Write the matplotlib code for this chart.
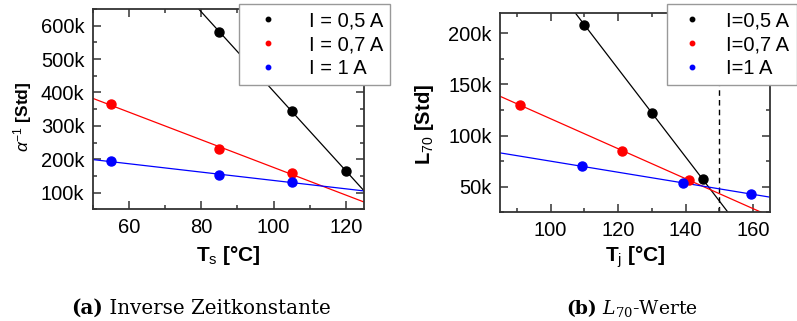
import numpy as np
import matplotlib
matplotlib.use("Agg")
import matplotlib.pyplot as plt
from matplotlib.lines import Line2D
from matplotlib.ticker import MultipleLocator, FuncFormatter

plt.rcParams["font.family"] = ["Liberation Sans", "DejaVu Sans"]
plt.rcParams["mathtext.fontset"] = "custom"
plt.rcParams["mathtext.rm"] = "Liberation Sans"
plt.rcParams["mathtext.it"] = "Liberation Sans:italic"
plt.rcParams["mathtext.bf"] = "Liberation Sans:bold"

# (a) inverse Zeitkonstante ueber Loetstellentemperatur
ts_05 = [85, 105, 120]
inv_05 = [582e3, 344e3, 165e3]
ts_07 = [55, 85, 105]
inv_07 = [364e3, 232e3, 158e3]
ts_10 = [55, 85, 105]
inv_10 = [194e3, 152e3, 132e3]

# (b) L70-Werte ueber Sperrschichttemperatur
tj_05 = [110, 130, 145]
l70_05 = [208e3, 122.5e3, 57.3e3]
tj_07 = [91, 121, 141]
l70_07 = [130e3, 84.6e3, 57e3]
tj_10 = [109.3, 139.3, 159.3]
l70_10 = [70e3, 53.5e3, 43e3]
tj_max = 150

colors = ["black", "red", "blue"]
labels_a = ["I = 0,5 A", "I = 0,7 A", "I = 1 A"]
labels_b = ["I=0,5 A", "I=0,7 A", "I=1 A"]

FS = 14.5
spine_col = "#333333"


def k_fmt(v, pos):
  return f"{int(round(v / 1000))}k"


def draw_panel(ax, series, xlim, ylim, xmaj, ymaj):
  for (xs, ys), c in zip(series, colors):
    m, b = np.polyfit(xs, ys, 1)
    xx = np.array(xlim, dtype=float)
    ax.plot(xx, m * xx + b, color=c, lw=0.9, zorder=2)
    ax.plot(xs, ys, "o", color=c, ms=6.5, mec=c, zorder=3)
  ax.set_xlim(*xlim)
  ax.set_ylim(*ylim)
  ax.xaxis.set_major_locator(MultipleLocator(xmaj))
  ax.xaxis.set_minor_locator(MultipleLocator(xmaj / 2))
  ax.yaxis.set_major_locator(MultipleLocator(ymaj))
  ax.yaxis.set_minor_locator(MultipleLocator(ymaj / 2))
  ax.yaxis.set_major_formatter(FuncFormatter(k_fmt))
  ax.tick_params(which="both", direction="in", top=True, right=True,
                 labelsize=FS, color=spine_col, width=1.1, pad=6)
  ax.tick_params(which="major", length=5.5)
  ax.tick_params(which="minor", length=3)
  for s in ax.spines.values():
    s.set_color(spine_col)
    s.set_linewidth(1.3)


def add_legend(fig, labels, anchor, hl, tp):
  handles = [Line2D([], [], ls="none", marker="o", ms=3.2, color=c) for c in colors]
  leg = fig.legend(handles, labels, loc="upper right", bbox_to_anchor=anchor,
                   fontsize=FS, frameon=True, fancybox=False, framealpha=1,
                   edgecolor="#999999", borderaxespad=0, borderpad=0.35,
                   labelspacing=0.25, handlelength=hl, handletextpad=tp)
  leg.get_frame().set_linewidth(1.0)
  leg.set_zorder(10)
  return leg


fig = plt.figure(figsize=(7.97, 3.21), dpi=100)

ax1 = fig.add_axes([92.7 / 797, 1 - 209.3 / 321, 271.3 / 797, 200.3 / 321])
draw_panel(ax1, [(ts_05, inv_05), (ts_07, inv_07), (ts_10, inv_10)],
           (50, 125), (50e3, 650e3), 20, 100e3)
ax1.set_xlabel(r"T$_{\mathrm{s}}$ [°C]", fontsize=15, fontweight="bold")
ax1.xaxis.set_label_coords(0.5, -0.175)
ax1.set_ylabel(r"$\alpha^{-1}$ [Std]", fontsize=12.5, fontweight="bold",
               va="center")
ax1.yaxis.set_label_coords(-0.257, 0.46)

ax2 = fig.add_axes([500 / 797, 1 - 212.3 / 321, 270 / 797, 199.6 / 321])
draw_panel(ax2, [(tj_05, l70_05), (tj_07, l70_07), (tj_10, l70_10)],
           (85, 165), (25e3, 220e3), 20, 50e3)
ax2.axvline(tj_max, color="black", lw=1.0, dashes=(4, 3), zorder=1)
ax2.set_xlabel(r"T$_{\mathrm{j}}$ [°C]", fontsize=15, fontweight="bold")
ax2.xaxis.set_label_coords(0.5, -0.16)
ax2.set_ylabel(r"L$_{\mathrm{70}}$ [Std]", fontsize=14.5, fontweight="bold",
               va="center")
ax2.yaxis.set_label_coords(-0.281, 0.44)

add_legend(fig, labels_a, (390 / 797, 1 - 4 / 321), 2.2, 0.9)
add_legend(fig, labels_b, (796.5 / 797, 1 - 4.3 / 321), 1.8, 0.8)

# captions below each panel, bold tag followed by plain text
fig.canvas.draw()
r = fig.canvas.get_renderer()
for cx, size, tag, rest in [(201, 14.3, "(a)", " Inverse Zeitkonstante"),
                            (632.5, 13.5, "(b)", r" $L_{70}$-Werte")]:
  t1 = fig.text(0, 0, tag, fontsize=size, family="DejaVu Serif",
                fontweight="bold", va="baseline")
  t2 = fig.text(0, 0, rest, fontsize=size, family="DejaVu Serif",
                math_fontfamily="dejavuserif", va="baseline")
  w1 = t1.get_window_extent(r).width
  w2 = t2.get_window_extent(r).width
  x0 = cx - (w1 + w2) / 2
  base = 321 - 314
  t1.set_position((x0 / 797, base / 321))
  t2.set_position(((x0 + w1) / 797, base / 321))

fig.savefig("out.png", dpi=100)
